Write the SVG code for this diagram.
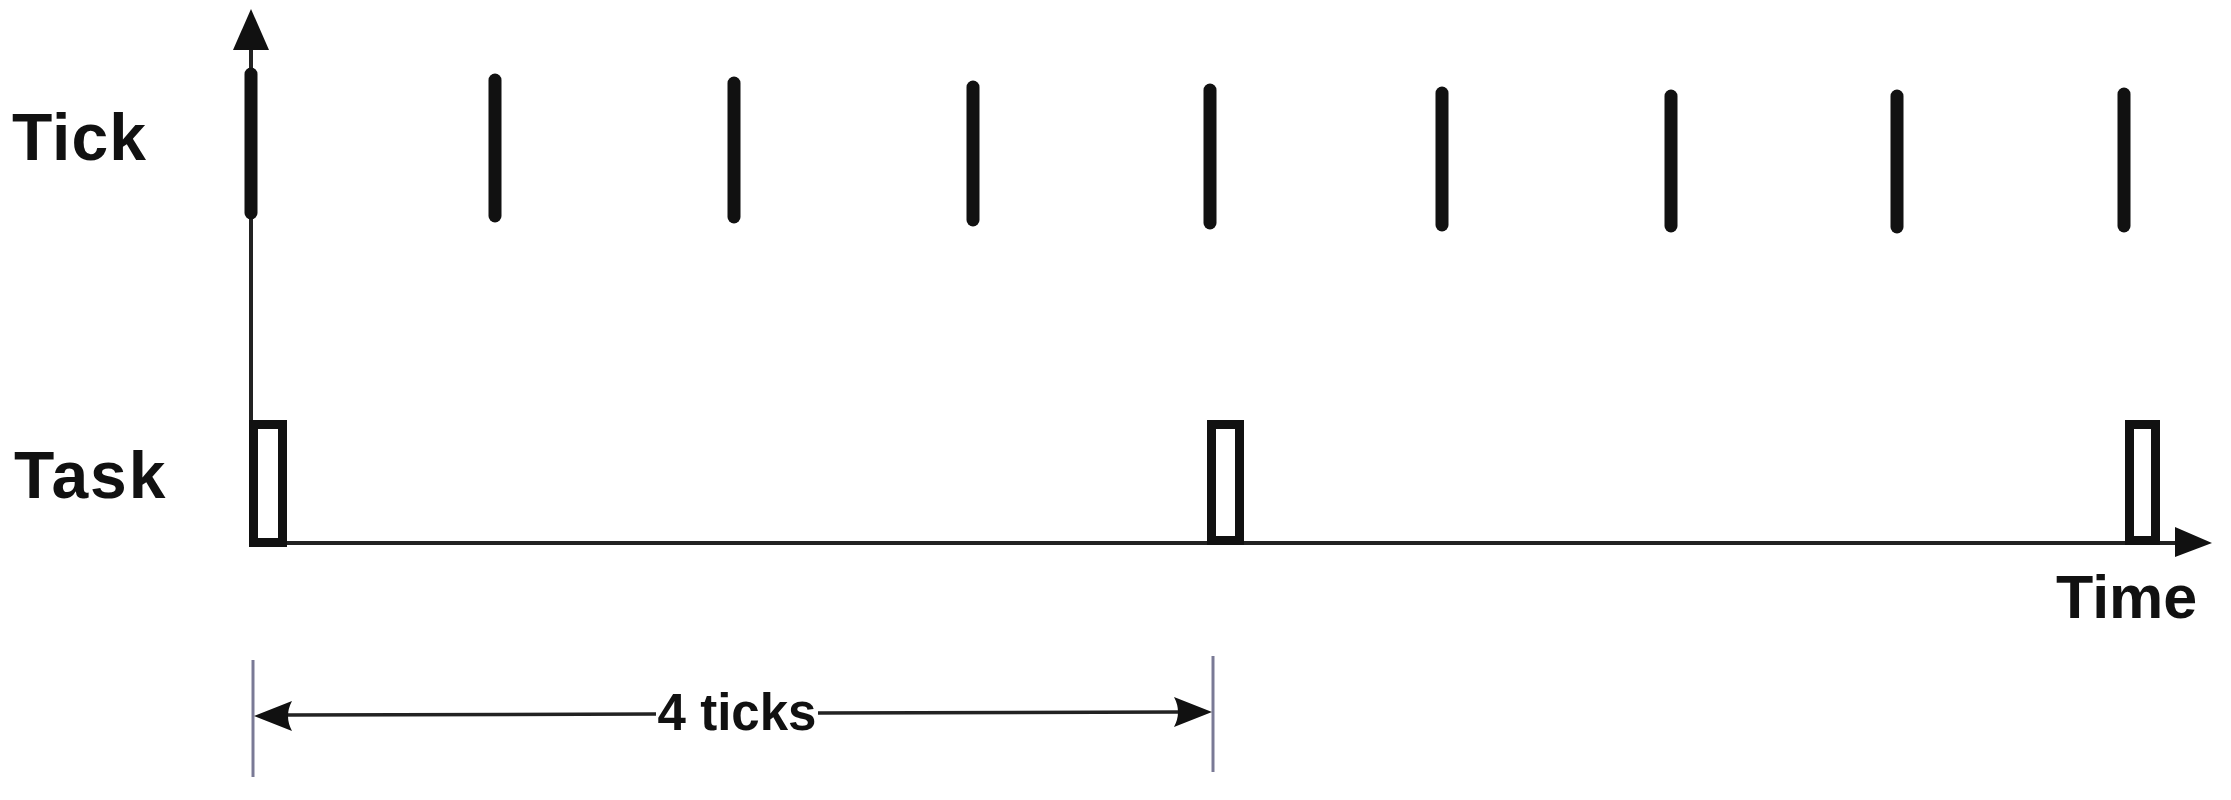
<svg xmlns="http://www.w3.org/2000/svg" width="2231" height="800" viewBox="0 0 2231 800">
<style>
.lbl{font-family:"Liberation Sans",Arial,sans-serif;font-weight:bold;fill:#111}
.tick{stroke:#111;stroke-width:13;stroke-linecap:round}
.task{fill:#fff;stroke:#111;stroke-width:9}
.axis{stroke:#222;stroke-width:4;fill:none}
.dim{stroke:#7a7a96;stroke-width:3}
.dline{stroke:#222;stroke-width:3.5}
.head{fill:#111}
</style>
<rect width="2231" height="800" fill="#fff"/>
<g id="connectors">
  <line class="axis" x1="251" y1="543" x2="251" y2="48"/>
  <polygon class="head" points="251,9 233,50 269,50"/>
  <line class="axis" x1="253" y1="543" x2="2178" y2="543"/>
  <polygon class="head" points="2212,543 2175,527 2175,557"/>
</g>
<g id="ticks">
  <line class="tick" x1="251" y1="74" x2="251" y2="213"/>
  <line class="tick" x1="495" y1="80" x2="495" y2="216"/>
  <line class="tick" x1="734" y1="83" x2="734" y2="217"/>
  <line class="tick" x1="973" y1="87" x2="973" y2="220"/>
  <line class="tick" x1="1210" y1="90" x2="1210" y2="223"/>
  <line class="tick" x1="1442" y1="93" x2="1442" y2="225"/>
  <line class="tick" x1="1671" y1="96" x2="1671" y2="226"/>
  <line class="tick" x1="1897" y1="96" x2="1897" y2="227"/>
  <line class="tick" x1="2124" y1="94" x2="2124" y2="226"/>
</g>
<g id="task1"><rect class="task" x="253.5" y="424.5" width="29" height="118"/></g>
<g id="task2"><rect class="task" x="1211.5" y="424.5" width="28" height="116"/></g>
<g id="task3"><rect class="task" x="2129.5" y="424.5" width="26" height="116"/></g>
<g id="label-tick"><text class="lbl" x="12" y="160" font-size="66" letter-spacing="1">Tick</text></g>
<g id="label-task"><text class="lbl" x="14" y="498" font-size="66" letter-spacing="2">Task</text></g>
<g id="label-time"><text class="lbl" x="2056" y="618" font-size="61">Time</text></g>
<g id="dimension">
  <line class="dim" x1="253" y1="660" x2="253" y2="777"/>
  <line class="dim" x1="1213" y1="656" x2="1213" y2="772"/>
  <line class="dline" x1="285" y1="715" x2="656" y2="714"/>
  <line class="dline" x1="818" y1="713" x2="1180" y2="712"/>
  <path class="head" d="M254,716 L292,701 Q284,716 292,731 Z"/>
  <path class="head" d="M1212,712 L1174,697 Q1182,712 1174,727 Z"/>
  <text class="lbl" x="737" y="730" font-size="51" text-anchor="middle">4 ticks</text>
</g>
</svg>
